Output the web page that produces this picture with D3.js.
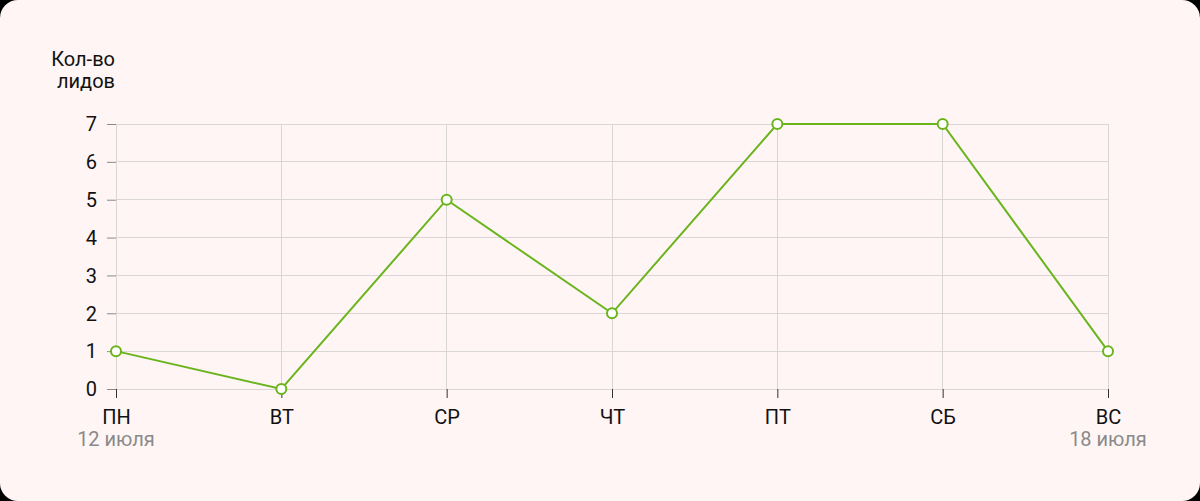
<!DOCTYPE html>
<html><head><meta charset="utf-8">
<script src="https://cdn.jsdelivr.net/npm/d3@7"></script>
<style>
html,body{margin:0;padding:0;background:#000;}
svg{display:block;font-family:Roboto,sans-serif;}
</style></head><body>
<svg id="chart" width="1200" height="501"></svg>
<script>
const days = ["ПН","ВТ","СР","ЧТ","ПТ","СБ","ВС"];
const leads = [1,0,5,2,7,7,1];
const yTicks = [0,1,2,3,4,5,6,7];
const dateLabels = ["12 июля","","","","","","18 июля"];
const yTitle = ["Кол-во","лидов"];

const svg = d3.select("#chart");
svg.append("rect").attr("x",0).attr("y",0).attr("width",1200).attr("height",501).attr("rx",18).attr("fill","#fff5f5");

const x = d3.scalePoint().domain(days).range([116,1108]);
const y = d3.scaleLinear().domain([0,7]).range([389,124]);

// horizontal grid
svg.append("g").selectAll("line").data(yTicks).join("line")
  .attr("x1",116).attr("x2",1108).attr("y1",d=>y(d)).attr("y2",d=>y(d))
  .attr("stroke","#dad6d7").attr("stroke-width",1).attr("shape-rendering","crispEdges");
// vertical grid
svg.append("g").selectAll("line").data(days).join("line")
  .attr("x1",d=>x(d)).attr("x2",d=>x(d)).attr("y1",124).attr("y2",389)
  .attr("stroke","#dad6d7").attr("stroke-width",1).attr("shape-rendering","crispEdges");

// y axis
const yAxis = d3.axisLeft(y).tickValues(yTicks).tickSize(9).tickPadding(10).tickFormat(d3.format("d"));
const gy = svg.append("g").attr("transform","translate(116,0)").call(yAxis);
gy.select(".domain").remove();
gy.selectAll(".tick line").attr("stroke","#8a8a8a");
gy.selectAll(".tick text").attr("fill","#111").attr("font-size",20).attr("font-family","Roboto").attr("dy","0.34em");

// x axis
const xAxis = d3.axisBottom(x).tickSize(9).tickPadding(10);
const gx = svg.append("g").attr("transform","translate(0,389)").call(xAxis);
gx.select(".domain").remove();
gx.selectAll(".tick line").attr("stroke","#333");
gx.selectAll(".tick text").attr("fill","#111").attr("font-size",20).attr("font-family","Roboto").attr("y",35).attr("dy",0);

// dates
svg.append("g").selectAll("text").data(days.map((d,i)=>({d,t:dateLabels[i]})).filter(o=>o.t)).join("text")
  .attr("x",o=>x(o.d)).attr("y",446).attr("text-anchor","middle")
  .attr("font-size",20).attr("fill","#8a8a8a").attr("font-family","Roboto").text(o=>o.t);

// y title
svg.append("text").attr("x",115).attr("y",66).attr("text-anchor","end").attr("font-size",20).attr("fill","#111")
  .selectAll("tspan").data(yTitle).join("tspan").attr("x",115).attr("dy",(d,i)=>i?22:0).text(d=>d);

// line
const line = d3.line().x((d,i)=>x(days[i])).y(d=>y(d));
svg.append("path").datum(leads).attr("d",line).attr("fill","none").attr("stroke","#6ab41c").attr("stroke-width",2);
svg.append("g").selectAll("circle").data(leads).join("circle")
  .attr("cx",(d,i)=>x(days[i])).attr("cy",d=>y(d)).attr("r",5)
  .attr("fill","#fff").attr("stroke","#6ab41c").attr("stroke-width",2);
</script>
</body></html>
